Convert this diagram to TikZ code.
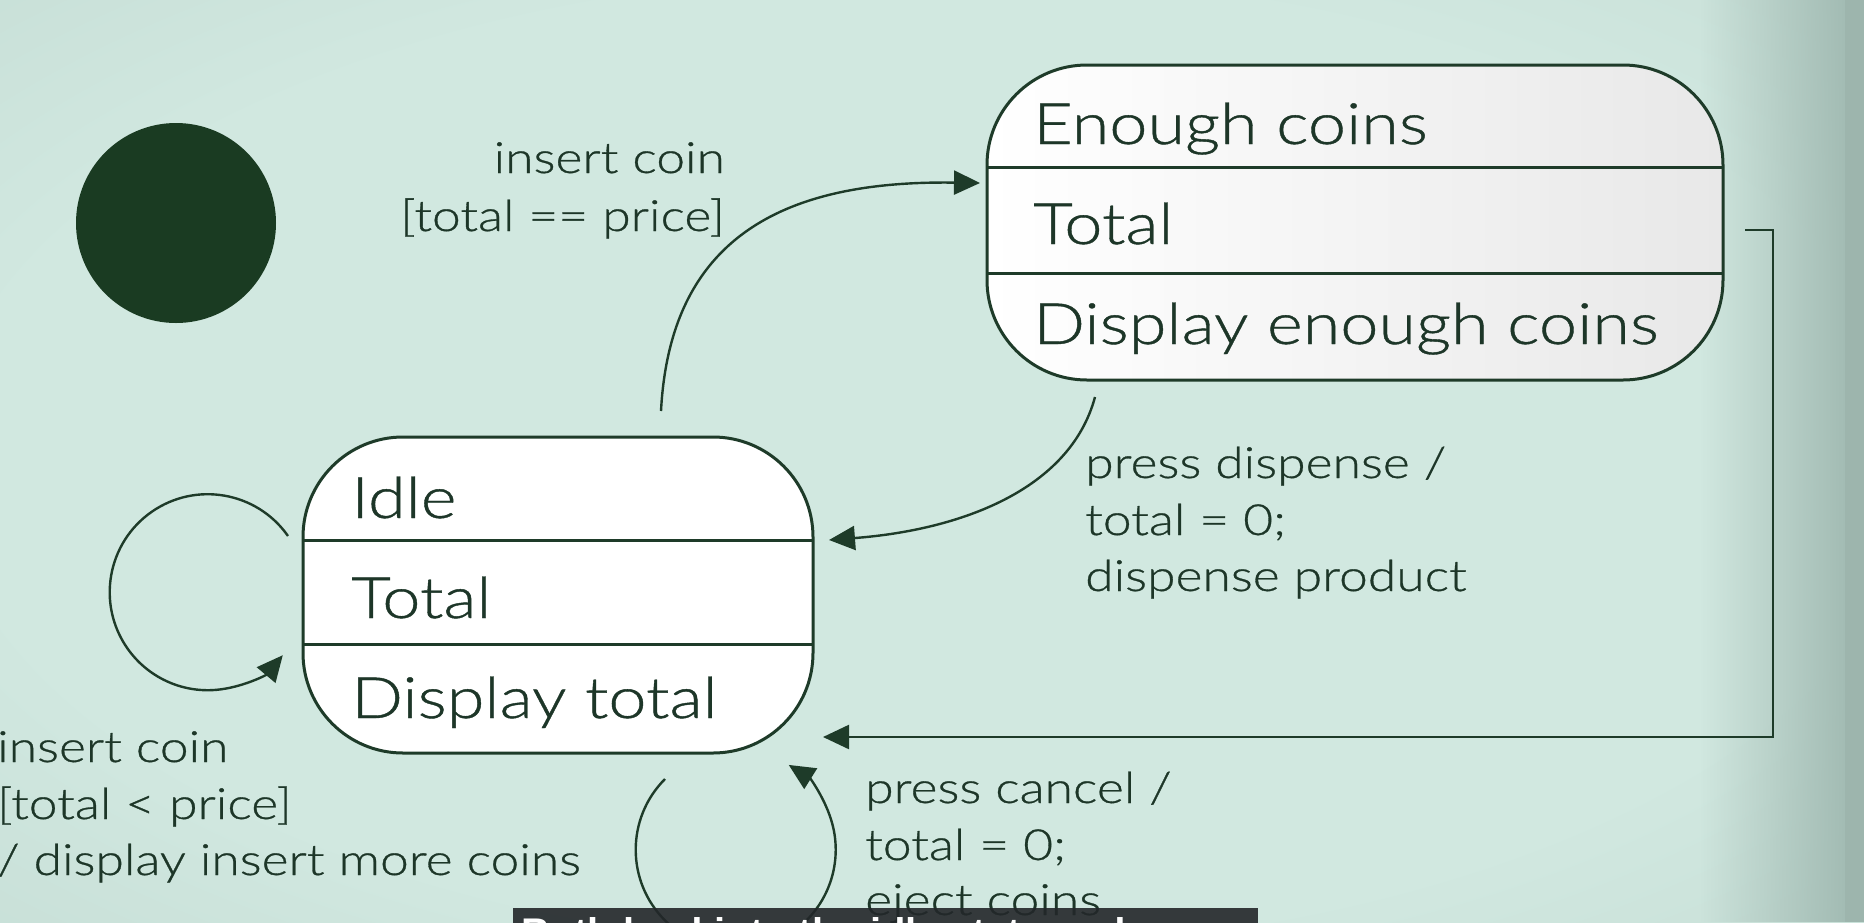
\documentclass[tikz,border=0pt]{standalone}
\usepackage{fontspec}
\setmainfont{Lato Light}[FakeStretch=1.2, FakeBold=0.7]
\newfontfamily\subfont{Liberation Sans}
\usetikzlibrary{arrows.meta,calc,fadings}
\definecolor{bgc}{HTML}{D1E8E0}
\definecolor{bgo}{HTML}{ABC4BC}
\definecolor{bgdark}{HTML}{A3BCB4}
\definecolor{edge}{HTML}{9DB5AD}
\definecolor{dark}{HTML}{1A3B22}
\definecolor{lc}{HTML}{1E3B29}
\definecolor{tc}{HTML}{1D3628}
\definecolor{subbg}{HTML}{23272A}
\pgfdeclareradialshading{bgshade}{\pgfpoint{0bp}{0bp}}{color(0bp)=(bgc); color(26bp)=(bgc); color(71bp)=(bgo)}
\tikzfading[name=fadeR, left color=transparent!100, right color=transparent!0]
\tikzset{
  state/.style={draw=lc, line width=3pt, rounded corners=100pt, inner sep=0pt, outer sep=0pt},
  divline/.style={draw=lc, line width=3pt},
  conn/.style={draw=lc, line width=2.4pt},
  tip/.style={-{Triangle[length=26pt,width=24pt]}},
  stxt/.style={text=tc, font=\fontsize{57}{60}\selectfont, anchor=base west, inner sep=0pt},
  ltxt/.style={text=tc, font=\fontsize{43}{50}\selectfont, inner sep=0pt},
}
\begin{document}
\begin{tikzpicture}[x=1pt,y=-1pt]
\useasboundingbox (0,0) rectangle (1864,922);
\clip (0,0) rectangle (1864,922);
% background
\shade[shading=bgshade] (0,0) rectangle (1864,922);
\fill[bgdark, path fading=fadeR] (1700,0) rectangle (1845,922);
\fill[edge] (1845,0) rectangle (1864,922);

% initial state
\node[circle, fill=dark, minimum size=200pt, inner sep=0pt] (init) at (176,223) {};

% Enough coins state
\node[state, minimum width=736pt, minimum height=315pt, left color=white, right color=black!9] (enough) at (1355,222.5) {};
\draw[divline] ($(enough.north west)+(0,102)$) -- ($(enough.north east)+(0,102)$);
\draw[divline] ($(enough.north west)+(0,208)$) -- ($(enough.north east)+(0,208)$);
\node[stxt] (en1) at ($(enough.north west)+(46,79)$) {Enough coins};
\node[stxt] (en2) at ($(enough.north west)+(46,179)$) {Total};
\node[stxt] (en3) at ($(enough.north west)+(46,279)$) {Display enough coins};

% Idle state
\node[state, fill=white, minimum width=510pt, minimum height=316pt] (idle) at (558,595) {};
\draw[divline] ($(idle.north west)+(0,103)$) -- ($(idle.north east)+(0,103)$);
\draw[divline] ($(idle.north west)+(0,207)$) -- ($(idle.north east)+(0,207)$);
\node[stxt] (id1) at ($(idle.north west)+(48,81)$) {Idle};
\node[stxt] (id2) at ($(idle.north west)+(48,181)$) {Total};
\node[stxt] (id3) at ($(idle.north west)+(48,281)$) {Display total};

% idle -> enough
\draw[conn, tip] ($(idle.north)+(103,-26)$) .. controls (670,240) and (780,180) .. ($(enough.west)+(-7,-39.5)$);
\node[ltxt, anchor=base east] (lab1a) at (725,173) {insert coin};
\node[ltxt, anchor=base east] (lab1b) at (725,231) {[total == price]};

% enough -> idle
\draw[conn, tip] ($(enough.south)+(-260,17)$) .. controls (1070,490) and (960,530) .. ($(idle.east)+(16,-55)$);
\node[ltxt, anchor=base west] (lab2a) at (1085,478) {press dispense /};
\node[ltxt, anchor=base west] (lab2b) at (1085,535) {total = 0;};
\node[ltxt, anchor=base west] (lab2c) at (1085,591) {dispense product};

% elbow enough -> idle
\draw[conn, tip] ($(enough.east)+(22,7.5)$) -- ++(28,0) |- ($(idle.east)+(10,142)$);

% left self loop
\draw[conn, tip] ($(idle.west)+(-15,-59)$) arc[start angle=-35, end angle=-320, radius=98];
\node[ltxt, anchor=base west] (lab3a) at (-3,762) {insert coin};
\node[ltxt, anchor=base west] (lab3b) at (-3,819) {[total < price]};
\node[ltxt, anchor=base west] (lab3c) at (-3,875) {/ display insert more coins};

% bottom self loop
\draw[conn, tip] ($(idle.south)+(107,26)$) arc[start angle=-135, end angle=-418, radius=100];
\node[ltxt, anchor=base west] (lab4a) at (865,803) {press cancel /};
\node[ltxt, anchor=base west] (lab4b) at (865,860) {total = 0;};
\node[ltxt, anchor=base west] (lab4c) at (865,915) {eject coins};

% subtitle bar
\fill[subbg, opacity=0.9] (513,908) rectangle (1258,940);
\node[text=white, font=\subfont\bfseries\fontsize{40}{40}\selectfont, anchor=north west, inner sep=0pt] (sub) at (521,917) {Both lead into the idle state and};
\end{tikzpicture}
\end{document}
